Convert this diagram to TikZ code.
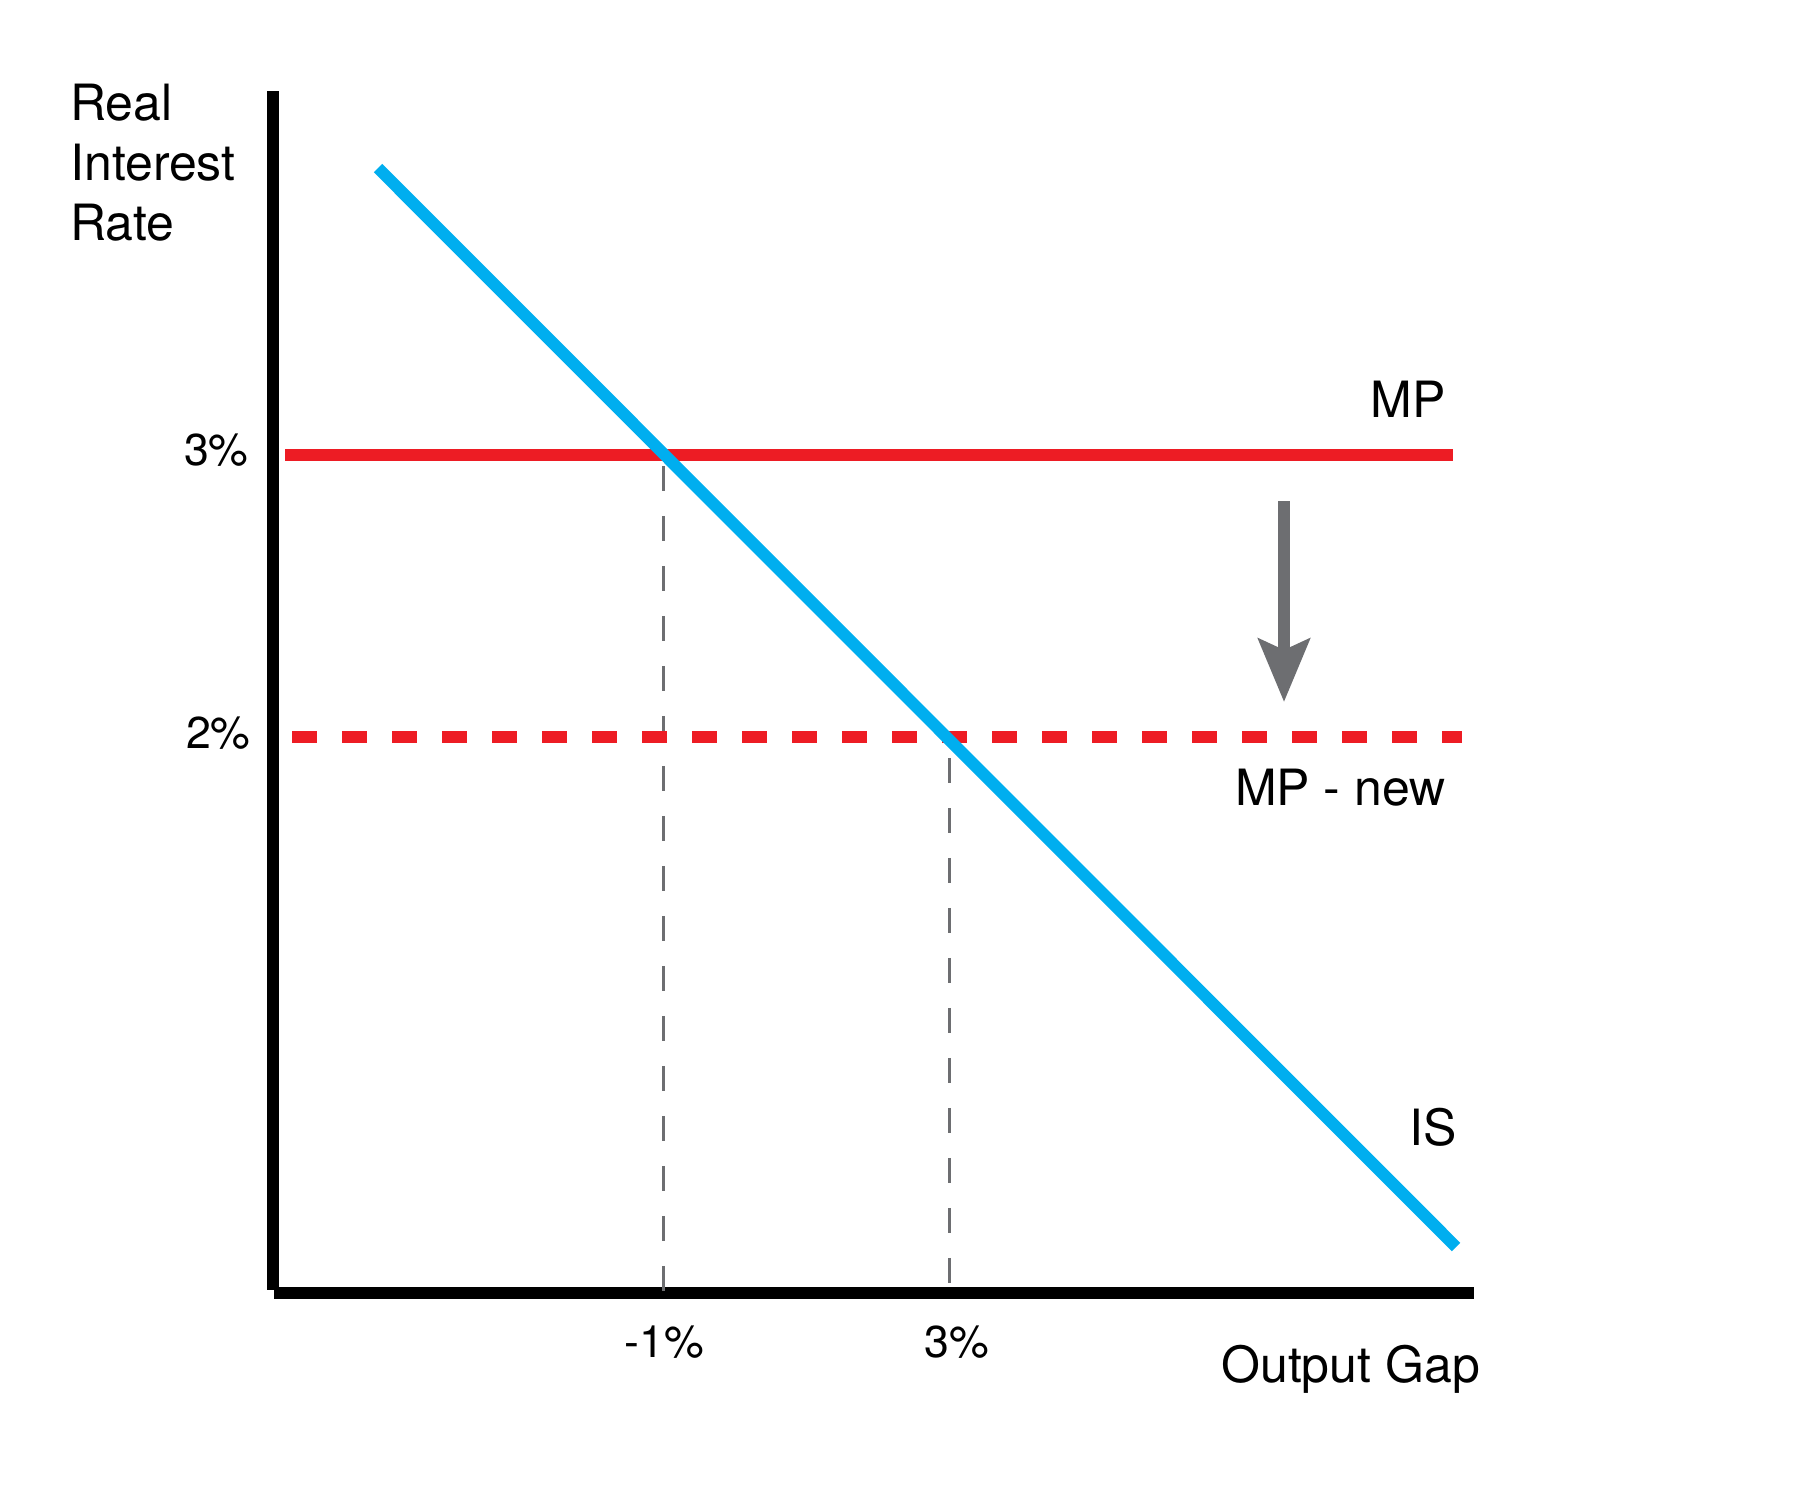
\documentclass[tikz,border=0pt]{standalone}
\usepackage{fontspec}
\setmainfont{TeX Gyre Heros}
\usetikzlibrary{arrows.meta}
\definecolor{mpred}{HTML}{ED1C24}
\definecolor{isblue}{HTML}{00AEEF}
\definecolor{guidegray}{HTML}{6D6E71}
\tikzset{
  axisline/.style={line width=0.24cm,black},
  curve/.style={line width=0.24cm},
  guide/.style={line width=0.06cm,guidegray,dash pattern=on 0.5cm off 0.5cm},
  lbl/.style={inner sep=0pt,font=\fontsize{28.45}{34.14}\selectfont},
  ticklbl/.style={inner sep=0pt,font=\fontsize{25.4}{30}\selectfont}
}
\begin{document}
\begin{tikzpicture}[x=0.02cm,y=-0.02cm]
\useasboundingbox (0,0) rectangle (1801,1501);
% axes
\coordinate (ytop) at (273,91);
\coordinate (ybot) at (273,1290);
\coordinate (xleft) at (274,1293);
\coordinate (xright) at (1474,1293);
\draw[axisline] (ytop) -- (ybot);
\draw[axisline] (xleft) -- (xright);
% guides
\coordinate (g1top) at (663,466);
\coordinate (g1bot) at (663,1291);
\coordinate (g2top) at (949,758);
\coordinate (g2bot) at (949,1283);
\draw[guide] (g1top) -- (g1bot);
\draw[guide] (g2top) -- (g2bot);
% MP lines
\coordinate (mpl) at (285,455);
\coordinate (mpr) at (1453,455);
\coordinate (mpnl) at (292,737);
\coordinate (mpnr) at (1462,737);
\draw[curve,mpred] (mpl) -- (mpr);
\draw[curve,mpred,dash pattern=on 0.5cm off 0.5cm] (mpnl) -- (mpnr);
% IS line
\coordinate (isl) at (378,168);
\coordinate (isr) at (1456,1247);
\draw[curve,isblue] (isl) -- (isr);
% shift arrow
\coordinate (shtop) at (1284,501);
\coordinate (shbot) at (1284,702);
\draw[guidegray,line width=0.24cm,-{Stealth[length=1.26cm,width=1.02cm,inset=0.22cm]}] (shtop) -- (shbot);
% labels
\node[lbl,anchor=north west,align=left] (ylabel) at (70,84) {Real\\Interest\\Rate};
\node[lbl,anchor=base west] (xlabel) at (1221,1382) {Output Gap};
\node[lbl,anchor=base east] (mplabel) at (1446,417) {MP};
\node[lbl,anchor=base east] (mpnlabel) at (1446,805) {MP - new};
\node[lbl,anchor=base east] (islabel) at (1457,1145) {IS};
\node[ticklbl,anchor=base east] (r3) at (249,465) {3\%};
\node[ticklbl,anchor=base east] (r2) at (251,748) {2\%};
\node[ticklbl,anchor=base] (gm1) at (664,1357) {-1\%};
\node[ticklbl,anchor=base] (g3) at (957,1357) {3\%};
\end{tikzpicture}
\end{document}
